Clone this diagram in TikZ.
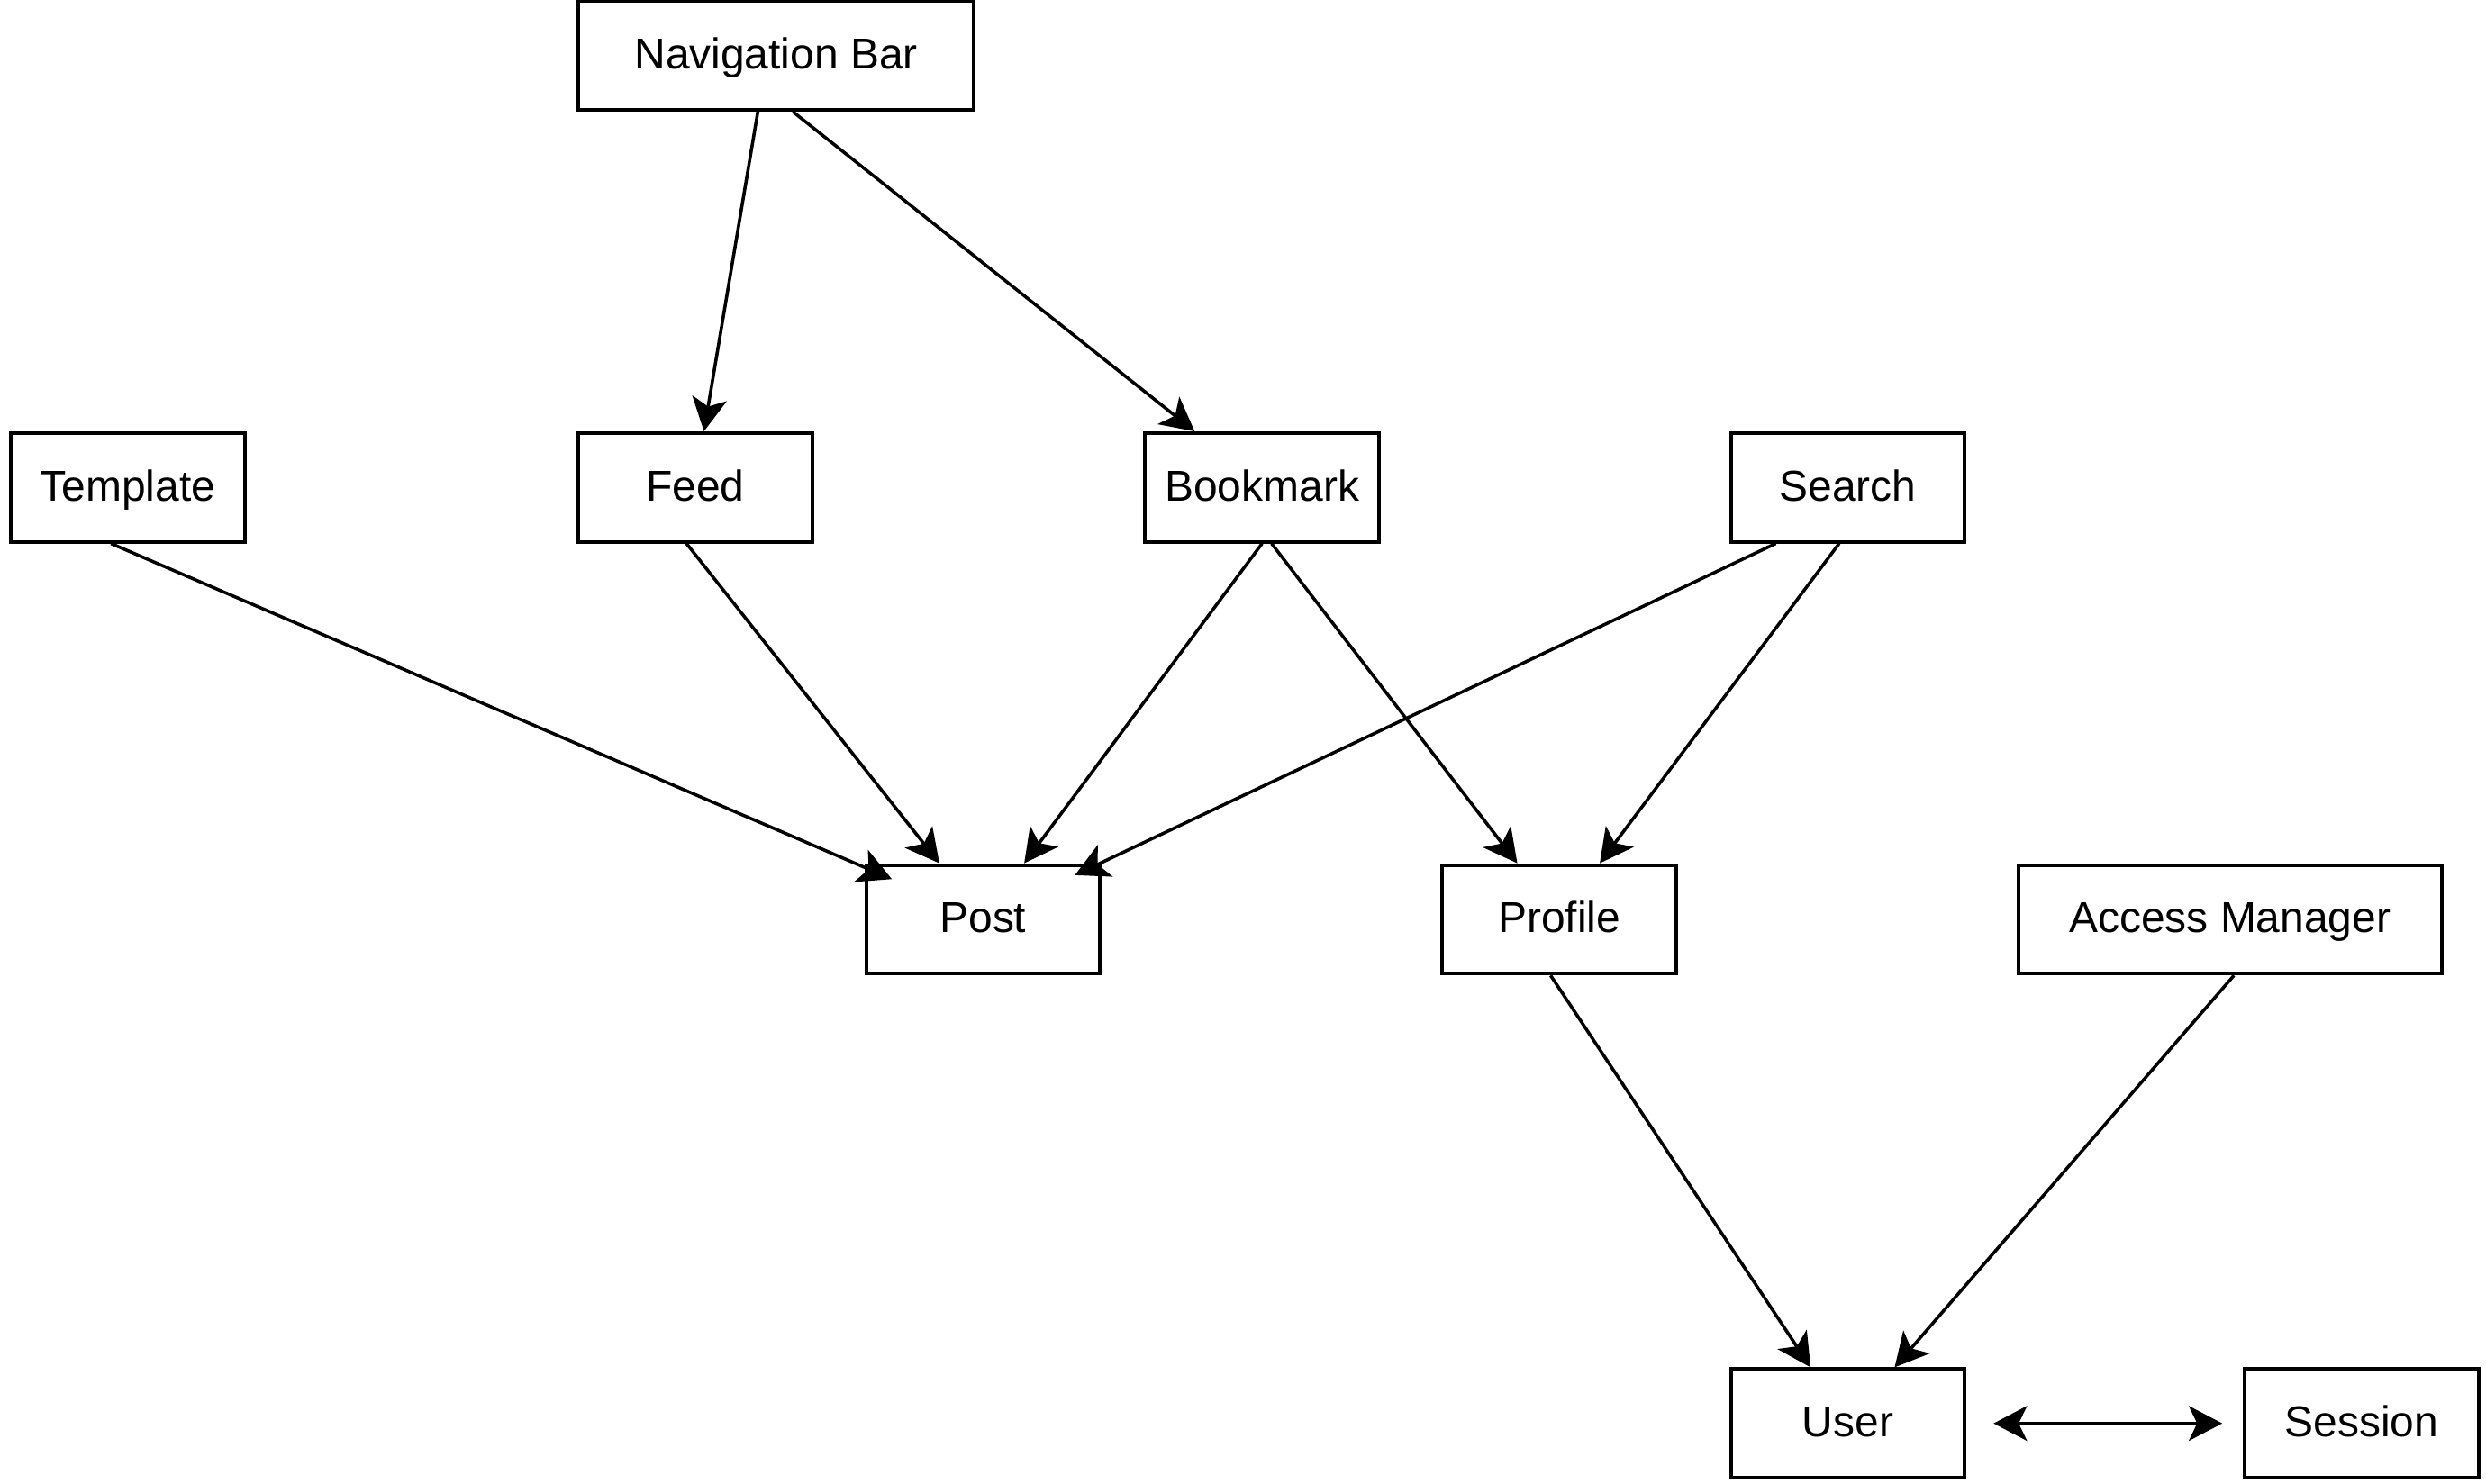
\documentclass[tikz,border=0pt]{standalone}
\usepackage{fontspec}
\setmainfont{Liberation Sans}
\usepackage{xcolor}
\usepackage{tikz}
\usetikzlibrary{shapes,arrows.meta}

\begin{document}
\begin{tikzpicture}
				\tikzstyle{common} = [draw, line width=1.3pt, text badly centered, node distance=5.45cm, inner sep=0.3em, font=\fontsize{15.5}{18}\selectfont, text height=11.1pt, text depth=1.5pt]
				\tikzstyle{block} = [rectangle, common, minimum width=2.95cm, minimum height=1.37cm]
				\tikzstyle{blockwide} = [block, minimum width=5.34cm]
				\tikzstyle{line} = [draw, line width=1.15pt, -{Stealth[length=12pt,width=12.5pt,inset=3pt]}]
				\tikzstyle{both} = [line, {Stealth[length=12pt,width=12.5pt,inset=3pt]}-{Stealth[length=12pt,width=12.5pt,inset=3pt]}]
				\useasboundingbox (0,0) rectangle (31.36,-18.72);
				\node[block] (template) at (1.61,-6.15) {Template};
				\node[block, node distance=7.16cm, right of=template] (feed) {Feed};
				\node[block, node distance=7.15cm, right of=feed] (bookmark) {Bookmark};
				\node[block, node distance=7.39cm, right of=bookmark] (search) {Search};
				\node[block, minimum width=4.98cm, above of=feed, xshift=1.02cm] (navbar) {Navigation Bar};

				\node[block, below of=feed, xshift=3.63cm] (post) {Post};
				\node[block, node distance=7.27cm, right of=post] (profile) {Profile};
				\node[blockwide, node distance=8.46cm, right of=profile] (access) {Access Manager};
				\node[block, node distance=6.36cm, below of=profile, xshift=3.64cm] (user) {User};
				\node[block, node distance=6.48cm, right of=user] (session) {Session};

				\draw[line] ([xshift=-0.23cm]navbar.south) -- ([xshift=0.11cm]feed.north);
				\draw[line] ([xshift=0.21cm]navbar.south) -- ([xshift=-0.85cm]bookmark.north);
				\draw[line] ([xshift=-0.21cm]template.south) -- ([xshift=-1.15cm,yshift=-0.2cm]post.north);
				\draw[line] ([xshift=-0.11cm]feed.south) -- ([xshift=-0.55cm]post.north);
				\draw[line] (bookmark.south) -- ([xshift=0.52cm]post.north);
				\draw[line] ([xshift=0.12cm]bookmark.south) -- ([xshift=-0.53cm]profile.north);
				\draw[line] ([xshift=-0.91cm]search.south) -- ([xshift=1.16cm,yshift=-0.15cm]post.north);
				\draw[line] ([xshift=-0.11cm]search.south) -- ([xshift=0.51cm]profile.north);
				\draw[line] ([xshift=-0.11cm]profile.south) -- ([xshift=-0.47cm]user.north);
				\draw[line] ([xshift=0.05cm]access.south) -- ([xshift=0.59cm]user.north);
				\draw[both] ([xshift=0.34cm]user.east) -- ([xshift=-0.26cm]session.west);
			\end{tikzpicture}
\end{document}
